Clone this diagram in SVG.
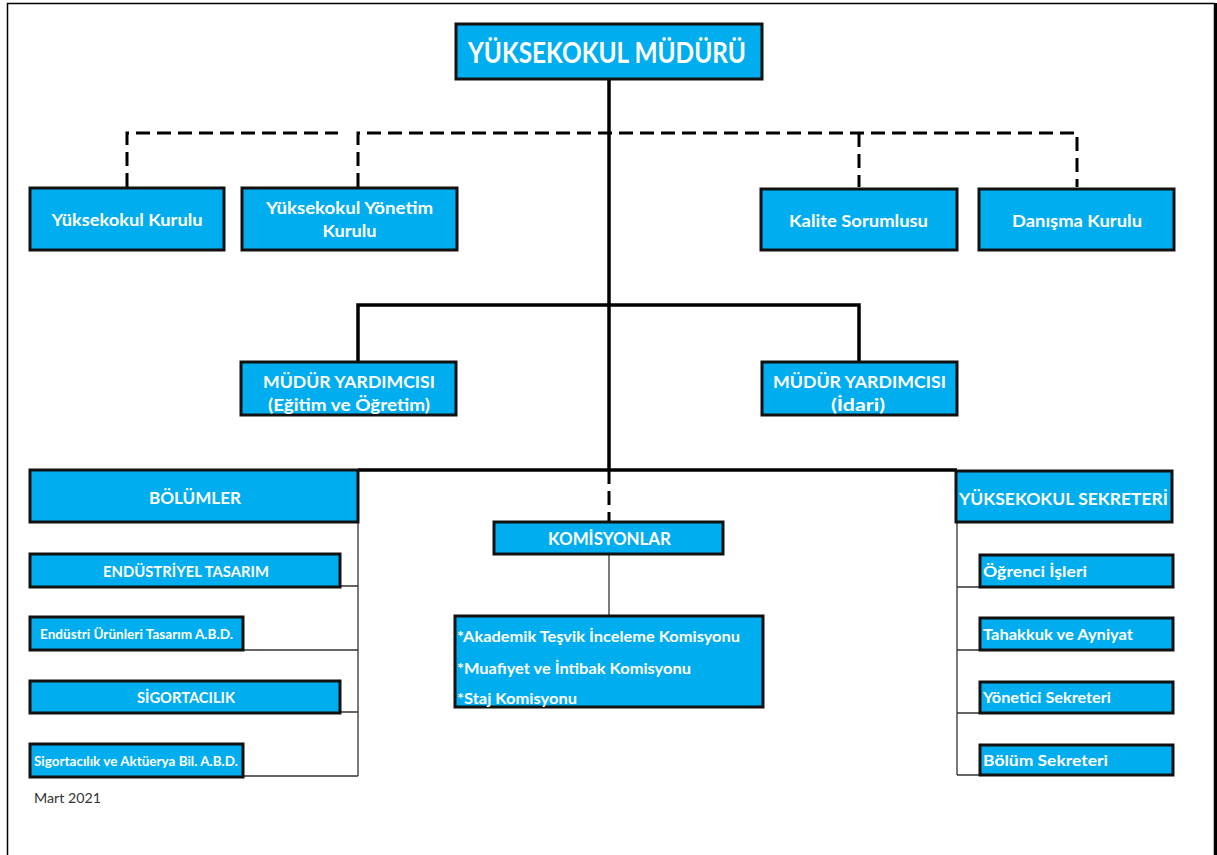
<svg xmlns="http://www.w3.org/2000/svg" width="1217" height="855" viewBox="0 0 1217 855">
<style>
.box{fill:#00AEEF;stroke:#111;stroke-width:3}
.t{font-family:Lato,"Open Sans","Liberation Sans",sans-serif;font-weight:bold;fill:#fff;dominant-baseline:central}
.c{text-anchor:middle}
.solid{fill:none;stroke:#000;stroke-width:3.5}
.dash{fill:none;stroke:#000;stroke-width:3;stroke-dasharray:14 7}
.thin{fill:none;stroke:#333;stroke-width:1.3}
</style>
<rect x="0" y="0" width="1217" height="855" fill="#fff"/>
<path d="M7.5,855 V3.5 H1214.5 V855" fill="none" stroke="#000" stroke-width="1.5"/>
<rect x="1214" y="3" width="3" height="852" fill="#000"/>
<g id="connectors">
<path class="solid" d="M609,79 V470"/>
<path class="dash" d="M127,187 V133 H338"/>
<path class="dash" d="M358,187 V133 H1077 V187"/>
<path class="dash" d="M859,133 V187"/>
<path class="solid" stroke-width="4" d="M358,362 V305 H859 V362"/>
<path class="solid" d="M358,470 H957"/>
<path class="dash" d="M609,470 V522" stroke-dasharray="10 6"/>
<path class="thin" d="M609,554 V616"/>
<path class="thin" d="M358,522 V776 M340,586 H358 M243,650 H358 M340,712 H358 M243,776 H358"/>
<path class="thin" d="M957,522 V775 M957,587 H980 M957,650 H980 M957,713 H980 M957,775 H980"/>
</g>
<g id="mudur"><rect class="box" x="456" y="24" width="306" height="55"/><text class="t c" x="607" y="52" font-size="28" textLength="278" lengthAdjust="spacingAndGlyphs">YÜKSEKOKUL MÜDÜRÜ</text></g>
<g id="yk-kurulu"><rect class="box" x="30" y="188" width="194" height="62"/><text class="t c" x="127" y="219" font-size="17.5" textLength="151" lengthAdjust="spacingAndGlyphs">Yüksekokul Kurulu</text></g>
<g id="yk-yonetim"><rect class="box" x="242" y="188" width="215" height="62"/><text class="t c" x="349.5" y="207" font-size="17.5" textLength="167" lengthAdjust="spacingAndGlyphs">Yüksekokul Yönetim</text><text class="t c" x="349.5" y="230" font-size="17.5" textLength="54" lengthAdjust="spacingAndGlyphs">Kurulu</text></g>
<g id="kalite"><rect class="box" x="761" y="189" width="196" height="61"/><text class="t c" x="858.5" y="220" font-size="17.5" textLength="139" lengthAdjust="spacingAndGlyphs">Kalite Sorumlusu</text></g>
<g id="danisma"><rect class="box" x="979" y="189" width="195" height="61"/><text class="t c" x="1077" y="220" font-size="17.5" textLength="130" lengthAdjust="spacingAndGlyphs">Danışma Kurulu</text></g>
<g id="my-egitim"><rect class="box" x="241" y="362" width="215" height="53"/><text class="t c" x="349" y="381" font-size="17.5" textLength="172" lengthAdjust="spacingAndGlyphs">MÜDÜR YARDIMCISI</text><text class="t c" x="349" y="404" font-size="17.5" textLength="162" lengthAdjust="spacingAndGlyphs">(Eğitim ve Öğretim)</text></g>
<g id="my-idari"><rect class="box" x="762" y="362" width="195" height="53"/><text class="t c" x="859.5" y="381" font-size="17.5" textLength="173" lengthAdjust="spacingAndGlyphs">MÜDÜR YARDIMCISI</text><text class="t c" x="858" y="404" font-size="17.5" textLength="54" lengthAdjust="spacingAndGlyphs">(İdari)</text></g>
<g id="bolumler"><rect class="box" x="30" y="470" width="328" height="52"/><text class="t c" x="195" y="497" font-size="17" textLength="92" lengthAdjust="spacingAndGlyphs">BÖLÜMLER</text></g>
<g id="endustriyel"><rect class="box" x="30" y="554" width="310" height="33"/><text class="t c" x="186" y="570.5" font-size="15" textLength="166" lengthAdjust="spacingAndGlyphs">ENDÜSTRİYEL TASARIM</text></g>
<g id="eut-abd"><rect class="box" x="30" y="617" width="213" height="33"/><text class="t c" x="136.5" y="633.5" font-size="13.5" textLength="193" lengthAdjust="spacingAndGlyphs">Endüstri Ürünleri Tasarım A.B.D.</text></g>
<g id="sigortacilik"><rect class="box" x="30" y="681" width="310" height="32"/><text class="t c" x="186" y="697" font-size="15" textLength="98" lengthAdjust="spacingAndGlyphs">SİGORTACILIK</text></g>
<g id="sab-abd"><rect class="box" x="30" y="744" width="213" height="33"/><text class="t c" x="136" y="761" font-size="13.5" textLength="204" lengthAdjust="spacingAndGlyphs">Sigortacılık ve Aktüerya Bil. A.B.D.</text></g>
<g id="komisyonlar"><rect class="box" x="494" y="522" width="229" height="32"/><text class="t c" x="609.5" y="539" font-size="16.5" textLength="123" lengthAdjust="spacingAndGlyphs">KOMİSYONLAR</text></g>
<g id="komisyon-listesi"><rect class="box" x="455" y="616" width="308" height="91"/>
<text class="t" x="457" y="636" font-size="14.5" textLength="283" lengthAdjust="spacingAndGlyphs">*Akademik Teşvik İnceleme Komisyonu</text>
<text class="t" x="457" y="668" font-size="14.5" textLength="234" lengthAdjust="spacingAndGlyphs">*Muafiyet ve İntibak Komisyonu</text>
<text class="t" x="457" y="698" font-size="14.5" textLength="120" lengthAdjust="spacingAndGlyphs">*Staj Komisyonu</text></g>
<g id="sekreter"><rect class="box" x="956" y="471" width="216" height="51"/><text class="t c" x="1063.5" y="498" font-size="17" textLength="209" lengthAdjust="spacingAndGlyphs">YÜKSEKOKUL SEKRETERİ</text></g>
<g id="ogrenci"><rect class="box" x="980" y="555" width="193" height="32"/><text class="t" x="983" y="571" font-size="14.5" textLength="104" lengthAdjust="spacingAndGlyphs">Öğrenci İşleri</text></g>
<g id="tahakkuk"><rect class="box" x="980" y="618" width="193" height="32"/><text class="t" x="983" y="634" font-size="14.5" textLength="150" lengthAdjust="spacingAndGlyphs">Tahakkuk ve Ayniyat</text></g>
<g id="yonetici"><rect class="box" x="980" y="682" width="193" height="31"/><text class="t" x="983" y="697.5" font-size="14.5" textLength="128" lengthAdjust="spacingAndGlyphs">Yönetici Sekreteri</text></g>
<g id="bolum-sek"><rect class="box" x="980" y="745" width="193" height="30"/><text class="t" x="983" y="760" font-size="14.5" textLength="125" lengthAdjust="spacingAndGlyphs">Bölüm Sekreteri</text></g>
<text x="34" y="798" font-family="Lato,'Open Sans','Liberation Sans',sans-serif" font-size="13" fill="#333" dominant-baseline="central" textLength="67" lengthAdjust="spacingAndGlyphs">Mart 2021</text>
</svg>
